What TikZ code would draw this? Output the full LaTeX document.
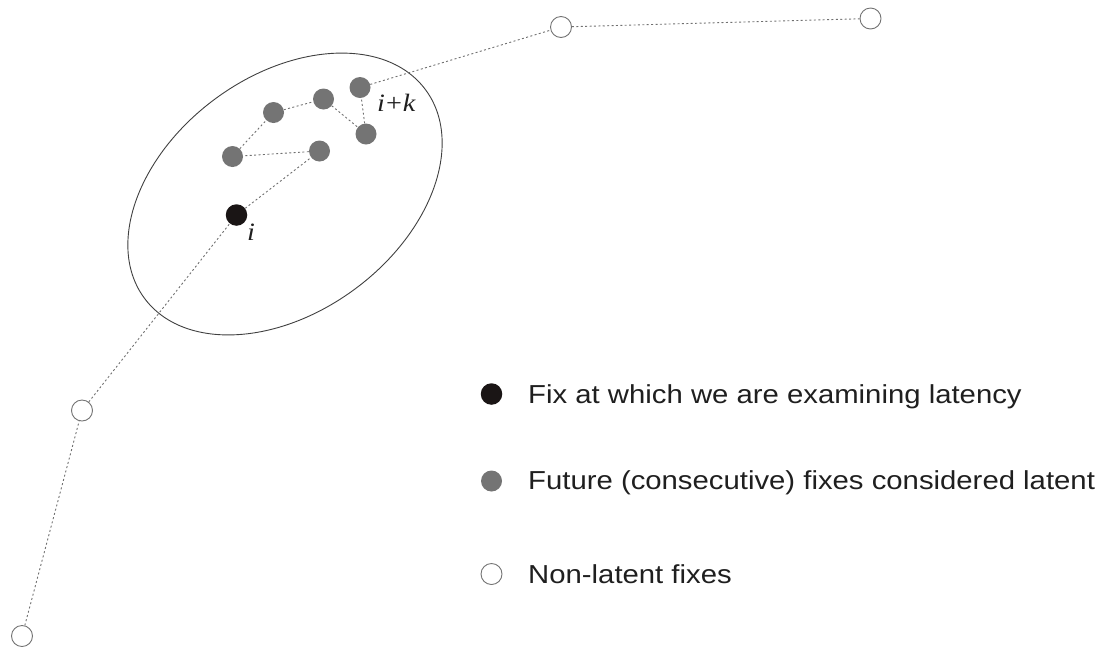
\documentclass[tikz,border=0pt]{standalone}
\usepackage{fontspec}
\newfontfamily\legendfont[FakeStretch=1.127]{Liberation Sans}
\newfontfamily\labelfont[FakeStretch=1.13]{Liberation Serif}
\definecolor{futgray}{HTML}{747474}
\definecolor{fixblack}{HTML}{1A1515}
\definecolor{linegray}{HTML}{707070}
\tikzset{
  openfix/.style={circle, draw=black!55, line width=0.9pt, fill=white, minimum size=21pt, inner sep=0pt},
  latfix/.style={circle, fill=futgray, minimum size=21pt, inner sep=0pt},
  curfix/.style={circle, fill=fixblack, minimum size=21.5pt, inner sep=0pt},
  trail/.style={draw=linegray, line width=0.9pt, dash pattern=on 2pt off 2.4pt},
  legendtext/.style={anchor=base west, inner sep=0pt, font=\legendfont\fontsize{26}{30}\selectfont, text=black!88},
  idxlabel/.style={anchor=base west, inner sep=0pt, font=\labelfont\fontsize{25}{29}\selectfont, text=black!88}
}
\begin{document}
\begin{tikzpicture}[x=1pt, y=-1pt]
\useasboundingbox (0,0) rectangle (1105,649);
% region of latency
\draw[line width=0.9pt, draw=black!75, rotate around={36.6:(285,194)}] (285,194) ellipse [x radius=175, y radius=118];
% fixes
\node[openfix] (o1) at (22,636) {};
\node[openfix] (o2) at (82,410.5) {};
\node[curfix]  (fi) at (236.5,215) {};
\node[latfix]  (g6) at (319.5,151) {};
\node[latfix]  (g1) at (232.5,156.5) {};
\node[latfix]  (g2) at (273.5,112.5) {};
\node[latfix]  (g3) at (323.5,99) {};
\node[latfix]  (g5) at (366,134) {};
\node[latfix]  (g4) at (360,87.5) {};
\node[openfix] (o3) at (561,27) {};
\node[openfix] (o4) at (870.5,18.5) {};
% trail
\draw[trail] (o1) -- (o2);
\draw[trail] (o2) -- (fi);
\draw[trail] (fi) -- (g6);
\draw[trail] (g6) -- (g1);
\draw[trail] (g1) -- (g2);
\draw[trail] (g2) -- (g3);
\draw[trail] (g3) -- (g5);
\draw[trail] (g5) -- (g4);
\draw[trail] (g4) -- (o3);
\draw[trail] (o3) -- (o4);
% labels
\node[idxlabel] (li) at (247,240) {\itshape i};
\node[idxlabel] (lk) at (377,111.5) {{\itshape i}\kern1pt+\kern1pt{\itshape k}};
% legend
\node[curfix]  (k1) at (491.5,394) {};
\node[latfix]  (k2) at (491.5,481) {};
\node[openfix] (k3) at (491.5,574) {};
\node[legendtext] (t1) at (528,403.3) {Fix at which we are examining latency};
\node[legendtext] (t2) at (528,489) {Future (consecutive) fixes considered latent};
\node[legendtext] (t3) at (528,583.3) {Non-latent fixes};
\end{tikzpicture}
\end{document}
